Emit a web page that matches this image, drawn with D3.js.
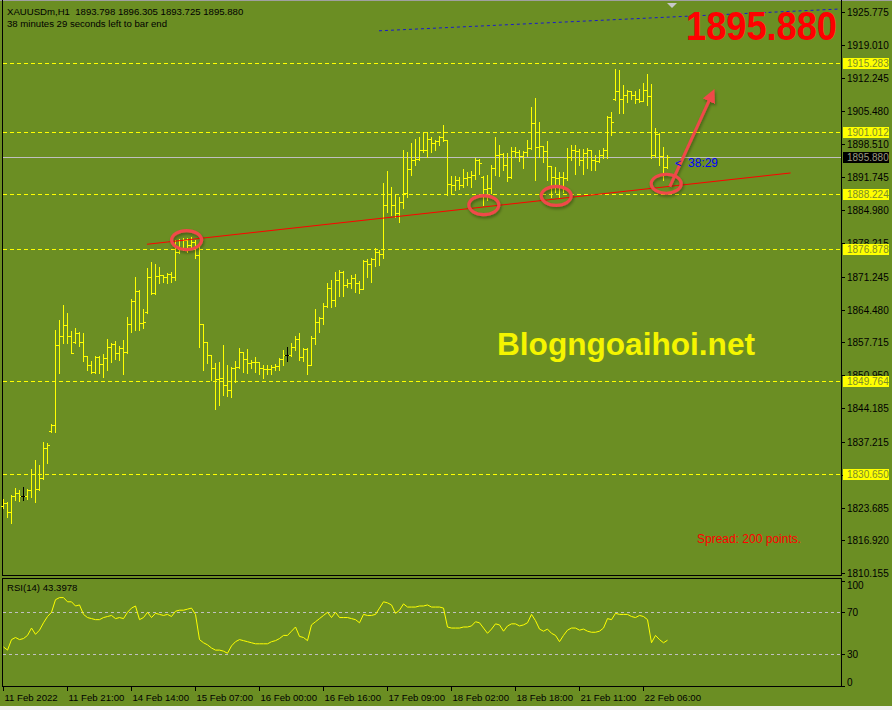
<!DOCTYPE html>
<html>
<head>
<meta charset="utf-8">
<script src="https://cdn.jsdelivr.net/npm/d3@7/dist/d3.min.js"></script>
<style>
  html, body { margin: 0; padding: 0; background: #6b8e23; }
  svg { display: block; font-family: "Liberation Sans", Arial, sans-serif; }
</style>
</head>
<body>
<svg id="chart" width="892" height="710"></svg>
<script>
// ---- data (XAUUSDm, H1) ----
var barOpen = [
  1824.0,1824.6,1822.8,1826.1,1826.6,1826.1,1826.1,1827.3,1830.7,1827.5,
  1829.7,1835.9,1839.5,1840.7,1857.2,1859.1,1861.2,1859.1,1857.9,1859.6,
  1857.9,1854.9,1853.1,1851.7,1854.8,1853.2,1854.5,1856.7,1857.3,1855.5,
  1856.5,1855.7,1861.5,1866.3,1868.3,1861.8,1864.0,1871.1,1867.9,1871.4,
  1871.6,1871.1,1871.9,1871.1,1876.4,1877.1,1878.8,1877.8,1878.5,1875.7,
  1861.5,1857.7,1855.1,1852.5,1850.2,1850.3,1848.9,1847.9,1852.5,1852.7,
  1855.7,1854.4,1853.5,1853.6,1853.7,1852.4,1852.2,1852.3,1852.7,1852.8,
  1854.2,1855.1,1855.1,1856.8,1858.5,1854.8,1856.4,1853.0,1858.7,1861.9,
  1862.7,1865.2,1869.0,1866.4,1870.6,1872.3,1869.5,1869.9,1870.9,1869.9,
  1868.8,1874.5,1873.9,1874.8,1876.4,1876.0,1886.0,1888.3,1886.0,1884.3,
  1886.7,1888.5,1893.4,1895.3,1895.5,1897.3,1897.4,1899.6,1898.7,1899.1,
  1900.0,1899.4,1890.4,1890.2,1891.2,1890.1,1891.5,1891.7,1892.1,1895.3,
  1891.8,1889.4,1889.6,1893.7,1896.3,1896.6,1894.3,1891.7,1897.2,1897.0,
  1896.2,1897.0,1897.8,1903.0,1898.0,1898.1,1897.2,1894.0,1891.7,1891.6,
  1891.8,1891.5,1896.0,1897.3,1897.2,1895.3,1896.8,1897.3,1895.3,1895.0,
  1896.3,1897.3,1904.1,1907.8,1909.4,1907.8,1908.7,1909.4,1908.7,1907.8,
  1907.5,1909.8,1908.5,1896.3,1900.6,1896.2,1893.798
];
var barHigh = [
  1825.4,1824.8,1826.3,1827.7,1827.3,1827.9,1827.5,1831.6,1833.5,1832.5,
  1837.2,1836.9,1840.9,1860.3,1862.4,1865.4,1863.7,1860.0,1860.6,1859.9,
  1859.6,1854.9,1853.8,1854.9,1854.9,1855.3,1858.4,1857.6,1858.1,1856.9,
  1858.2,1862.9,1866.6,1871.1,1868.5,1864.6,1873.0,1874.2,1873.8,1873.3,
  1871.7,1872.1,1872.3,1878.8,1879.0,1879.2,1879.3,1879.4,1878.8,1877.8,
  1861.6,1857.9,1855.1,1853.4,1853.7,1857.2,1853.1,1852.7,1853.9,1856.5,
  1855.7,1856.4,1854.1,1854.8,1853.7,1853.1,1853.0,1853.0,1853.2,1854.6,
  1856.1,1856.7,1857.5,1859.0,1859.6,1856.5,1856.5,1859.0,1864.5,1863.0,
  1865.9,1869.9,1870.6,1872.3,1872.6,1872.4,1870.7,1871.6,1871.8,1870.4,
  1874.7,1874.8,1875.2,1877.1,1876.7,1890.5,1893.0,1889.8,1888.3,1887.6,
  1897.3,1897.0,1898.7,1899.6,1900.1,1901.1,1901.1,1900.1,1899.4,1900.2,
  1902.4,1899.5,1891.9,1891.9,1891.8,1893.5,1892.9,1893.1,1895.6,1895.4,
  1891.9,1892.2,1894.2,1900.0,1898.4,1896.7,1896.7,1898.0,1897.9,1897.3,
  1897.2,1899.4,1906.3,1908.0,1903.2,1898.2,1899.1,1894.0,1893.8,1892.9,
  1892.9,1897.7,1898.4,1898.4,1897.5,1897.5,1897.7,1897.4,1896.3,1897.3,
  1897.7,1904.4,1905.2,1914.0,1913.8,1910.7,1909.7,1909.6,1909.4,1910.0,
  1911.1,1913.1,1911.0,1901.8,1900.8,1898.0,1896.305
];
var barLow = [
  1823.7,1821.8,1820.6,1825.3,1825.1,1825.3,1825.5,1825.8,1824.9,1827.3,
  1829.5,1832.8,1839.3,1839.3,1851.4,1857.5,1857.5,1855.5,1857.5,1856.9,
  1853.8,1852.0,1851.5,1851.5,1851.5,1850.5,1852.0,1853.6,1854.2,1854.0,
  1851.2,1855.6,1859.9,1860.3,1860.3,1860.6,1863.7,1867.6,1867.6,1869.9,
  1870.2,1869.9,1870.2,1870.6,1876.1,1876.8,1876.4,1877.2,1875.0,1856.8,
  1852.0,1853.4,1850.0,1844.1,1844.8,1846.9,1846.7,1846.5,1849.6,1852.5,
  1851.7,1851.5,1852.4,1851.7,1851.3,1850.3,1851.3,1851.2,1852.1,1852.1,
  1853.0,1853.9,1854.9,1856.1,1854.1,1853.9,1851.2,1853.0,1857.4,1859.9,
  1861.5,1865.1,1865.1,1865.2,1867.3,1867.3,1869.2,1869.0,1868.2,1867.8,
  1868.8,1871.2,1870.2,1873.4,1873.7,1875.2,1884.6,1883.9,1883.6,1882.6,
  1885.5,1887.7,1892.2,1894.3,1895.3,1897.0,1896.0,1897.0,1897.3,1898.4,
  1899.1,1888.1,1888.2,1889.1,1889.3,1889.8,1890.1,1889.8,1891.3,1892.5,
  1886.0,1887.0,1888.4,1892.1,1891.9,1893.2,1890.9,1891.5,1896.0,1895.0,
  1893.6,1896.1,1897.5,1891.2,1896.0,1894.9,1891.2,1887.7,1888.8,1887.7,
  1888.8,1891.2,1895.3,1892.5,1894.3,1892.5,1893.6,1893.2,1893.2,1894.9,
  1895.6,1895.6,1900.4,1907.6,1905.0,1905.0,1907.3,1907.8,1907.1,1907.3,
  1907.4,1906.6,1895.6,1896.0,1894.2,1891.2,1893.725
];
var barClose = [
  1824.6,1822.8,1826.1,1826.6,1826.1,1826.1,1827.3,1830.7,1827.5,1829.7,
  1835.9,1836.6,1840.7,1857.2,1859.1,1861.2,1859.1,1855.6,1859.6,1857.9,
  1854.9,1853.1,1851.7,1854.8,1853.2,1854.5,1856.7,1857.3,1855.5,1856.5,
  1855.7,1861.5,1866.3,1868.3,1861.8,1862.0,1871.1,1867.9,1871.4,1871.6,
  1871.1,1871.9,1871.1,1876.4,1877.1,1878.8,1877.8,1878.5,1875.7,1861.5,
  1857.7,1855.1,1852.5,1850.2,1850.3,1848.9,1847.9,1852.5,1852.7,1855.7,
  1854.4,1853.5,1853.6,1853.7,1852.4,1852.2,1852.3,1852.7,1852.8,1854.2,
  1855.1,1855.1,1856.8,1858.5,1854.8,1856.4,1853.0,1858.7,1861.9,1862.7,
  1865.2,1869.0,1866.4,1870.6,1872.3,1869.5,1869.9,1870.9,1869.9,1868.8,
  1874.5,1873.9,1874.8,1876.4,1876.0,1886.0,1888.3,1886.0,1884.3,1886.7,
  1888.5,1893.4,1895.3,1895.5,1897.3,1897.4,1899.6,1898.7,1899.1,1900.0,
  1899.4,1890.4,1890.2,1891.2,1890.1,1891.5,1891.7,1892.1,1895.3,1894.7,
  1889.4,1889.6,1893.7,1896.3,1896.6,1894.3,1891.7,1897.2,1897.0,1896.2,
  1897.0,1897.8,1903.0,1898.0,1898.1,1897.2,1894.0,1891.7,1891.6,1891.8,
  1891.5,1896.0,1897.3,1897.2,1895.3,1896.8,1897.3,1895.3,1895.0,1896.3,
  1897.3,1904.1,1903.2,1909.4,1907.8,1908.7,1909.4,1908.7,1907.8,1907.5,
  1909.8,1908.5,1896.3,1900.6,1896.2,1893.8,1895.880
];
var rsiValues = [
  37,34,44,46,44,45,48,55,49,53, 60,66,70,82,84,84,80,80,76,77,
  68,65,64,63,63,65,66,67,64,65, 64,70,74,76,63,65,70,65,69,68,
  67,68,66,71,72,72,73,74,68,44, 41,39,36,34,34,33,31,38,42,44,
  43,42,41,40,40,40,40,42,43,45, 48,48,52,56,47,46,43,58,61,64,
  67,70,65,70,65,65,65,64,63,60, 68,67,67,68,74,80,79,77,69,72,
  78,75,75,75,76,76,77,75,75,75, 74,56,55,55,55,56,56,57,61,60,
  55,50,54,59,58,52,57,59,59,57, 58,60,68,62,54,52,54,50,48,42,
  48,53,55,55,53,54,52,51,51,52, 55,64,63,69,68,68,68,66,65,67,
  66,63,41,48,44,41,43.3978
];
var priceTicks = [1925.775,1919.010,1912.245,1905.480,1898.510,1891.745,1884.980,1878.215,
  1871.245,1864.480,1857.715,1850.950,1844.185,1837.215,1830.450,1823.685,1816.920,1810.155];
var levelPrices = [1915.283, 1901.012, 1888.224, 1876.878, 1849.764, 1830.650];
var bidPrice = 1895.880;
var rsiTicks = [100, 70, 30, 0];
var rsiLevels = [70, 30];
var timeLabels = ["11 Feb 2022","11 Feb 21:00","14 Feb 14:00","15 Feb 07:00","16 Feb 00:00",
  "16 Feb 16:00","17 Feb 09:00","18 Feb 02:00","18 Feb 18:00","21 Feb 11:00","22 Feb 06:00"];
var timeLabelBars = [0,16,32,48,64,80,96,112,128,144,160];
// drawings on the chart, in bar index / price
var trendLine = [{i: 36, p: 1877.93}, {i: 196.9, p: 1892.62}];
var blueLine = [{i: 94, p: 1921.9}, {i: 209.4, p: 1926.4}];
var circles = [{i: 45.9, p: 1878.8}, {i: 120.2, p: 1886.0}, {i: 138.3, p: 1887.9}, {i: 165.8, p: 1890.4}];
var arrow = [{i: 166.7, p: 1889.8}, {i: 177.3, p: 1908.9}];

var svg = d3.select("#chart");
var W = 892, H = 710;
var plotRight = 841;

var x = d3.scaleLinear().domain([0, 166]).range([3, 667]);
var y = d3.scaleLinear().domain([1810.155, 1925.775]).range([573.3, 12]);
var yr = d3.scaleLinear().domain([0, 100]).range([685.8, 580.8]);

svg.append("rect").attr("width", W).attr("height", H).attr("fill", "#6b8e23");
svg.append("rect").attr("x", 0).attr("y", 0).attr("width", W).attr("height", 1).attr("fill", "#a0a0a0");
svg.append("rect").attr("x", 0).attr("y", 706).attr("width", W).attr("height", 4).attr("fill", "#f0f0f0");

// frames
var frame = svg.append("g").attr("fill", "none").attr("stroke", "#000").attr("shape-rendering", "crispEdges");
frame.append("path").attr("d", "M2.5,0V575.5H" + (plotRight + 0.5) + "V0");
frame.append("rect").attr("x", 2.5).attr("y", 578.5).attr("width", plotRight - 2).attr("height", 108);

// blue dashed line near the top
svg.append("line")
  .attr("x1", x(blueLine[0].i)).attr("y1", y(blueLine[0].p))
  .attr("x2", x(blueLine[1].i)).attr("y2", y(blueLine[1].p))
  .attr("stroke", "#1a1acd").attr("stroke-width", 1).attr("stroke-dasharray", "3,3");

// horizontal levels
svg.append("g").selectAll("line").data(levelPrices).enter().append("line")
  .attr("x1", 3).attr("x2", plotRight)
  .attr("y1", d => Math.round(y(d)) + 0.5).attr("y2", d => Math.round(y(d)) + 0.5)
  .attr("stroke", "#ffff00").attr("stroke-dasharray", "4,3").attr("shape-rendering", "crispEdges");

// bid line
svg.append("line").attr("x1", 3).attr("x2", plotRight)
  .attr("y1", Math.round(y(bidPrice)) + 0.5).attr("y2", Math.round(y(bidPrice)) + 0.5)
  .attr("stroke", "#c0c0c0").attr("shape-rendering", "crispEdges");

// OHLC bars
var bars = svg.append("g").attr("shape-rendering", "crispEdges");
barOpen.forEach(function (o, i) {
  var px = Math.round(x(i));
  var col = (o === barClose[i]) ? "#000" : "#ffff00";
  var g = bars.append("g").attr("fill", col);
  var top = Math.round(y(barHigh[i])), bot = Math.round(y(barLow[i]));
  g.append("rect").attr("x", px).attr("y", top).attr("width", 1).attr("height", Math.max(1, bot - top + 1));
  g.append("rect").attr("x", px - 2).attr("y", Math.round(y(o))).attr("width", 2).attr("height", 1);
  g.append("rect").attr("x", px + 1).attr("y", Math.round(y(barClose[i]))).attr("width", 2).attr("height", 1);
});

// red trend line
svg.append("line")
  .attr("x1", x(trendLine[0].i)).attr("y1", y(trendLine[0].p))
  .attr("x2", x(trendLine[1].i)).attr("y2", y(trendLine[1].p))
  .attr("stroke", "#ff0000").attr("stroke-width", 1);

// circles and arrow
var defs = svg.append("defs");
var f = defs.append("filter").attr("id", "shadow").attr("x", "-30%").attr("y", "-30%").attr("width", "160%").attr("height", "170%");
f.append("feDropShadow").attr("dx", 1).attr("dy", 2).attr("stdDeviation", 1.5).attr("flood-color", "#000").attr("flood-opacity", 0.35);
defs.append("marker").attr("id", "head").attr("viewBox", "0 0 10 10").attr("refX", 6).attr("refY", 5)
  .attr("markerWidth", 4.5).attr("markerHeight", 4.5).attr("orient", "auto")
  .append("path").attr("d", "M0,0L10,5L0,10z").attr("fill", "#f04848");

var ann = svg.append("g").attr("filter", "url(#shadow)");
ann.selectAll("ellipse").data(circles).enter().append("ellipse")
  .attr("cx", d => x(d.i)).attr("cy", d => y(d.p))
  .attr("rx", 15).attr("ry", 9.5)
  .attr("fill", "none").attr("stroke", "#f04848").attr("stroke-width", 3.2);
ann.append("line")
  .attr("x1", x(arrow[0].i)).attr("y1", y(arrow[0].p))
  .attr("x2", x(arrow[1].i)).attr("y2", y(arrow[1].p))
  .attr("stroke", "#f04848").attr("stroke-width", 3).attr("marker-end", "url(#head)");

// price axis
var axisG = svg.append("g").attr("font-size", "10px").attr("fill", "#000");
priceTicks.forEach(function (p) {
  var yy = Math.round(y(p)) + 0.5;
  axisG.append("line").attr("x1", plotRight).attr("x2", plotRight + 4).attr("y1", yy).attr("y2", yy)
    .attr("stroke", "#000").attr("shape-rendering", "crispEdges");
  axisG.append("text").attr("x", 847).attr("y", yy + 3.5).text(p.toFixed(3));
});
levelPrices.forEach(function (p) {
  var yy = Math.round(y(p));
  axisG.append("rect").attr("x", 843).attr("y", yy - 5).attr("width", 46).attr("height", 11).attr("fill", "#ffff00");
  axisG.append("text").attr("x", 847).attr("y", yy + 4).attr("fill", "#7a8c2a").text(p.toFixed(3));
});
(function () {
  var yy = Math.round(y(bidPrice));
  axisG.append("rect").attr("x", 843).attr("y", yy - 5).attr("width", 46).attr("height", 11).attr("fill", "#000");
  axisG.append("text").attr("x", 847).attr("y", yy + 4).attr("fill", "#9c9c80").text(bidPrice.toFixed(3));
})();

// small shift marker
svg.append("path").attr("d", "M667,3L677,3L672,8Z").attr("fill", "#c8c8c8");

// texts
svg.append("text").attr("x", 7).attr("y", 15).attr("font-size", "9.6px").attr("fill", "#000")
  .attr("xml:space", "preserve")
  .text("XAUUSDm,H1  " + barOpen[166].toFixed(3) + " " + barHigh[166].toFixed(3) + " " + barLow[166].toFixed(3) + " " + barClose[166].toFixed(3));
svg.append("text").attr("x", 7).attr("y", 27).attr("font-size", "9.6px").attr("fill", "#000")
  .text("38 minutes 29 seconds left to bar end");
svg.append("text").attr("x", 686).attr("y", 40).attr("font-size", "40px").attr("font-weight", "bold")
  .attr("fill", "#ff0000").attr("textLength", 151).attr("lengthAdjust", "spacingAndGlyphs")
  .text(bidPrice.toFixed(3));
svg.append("text").attr("x", 497).attr("y", 355).attr("font-size", "31px").attr("font-weight", "bold")
  .attr("fill", "#f5f500").attr("textLength", 258).attr("lengthAdjust", "spacingAndGlyphs")
  .text("Blogngoaihoi.net");
svg.append("text").attr("x", 697).attr("y", 543).attr("font-size", "12px").attr("fill", "#ff0000")
  .text("Spread: 200 points.");
svg.append("text").attr("x", 675).attr("y", 167).attr("font-size", "11px").attr("fill", "#0000ff").text("<");
svg.append("text").attr("x", 688).attr("y", 167).attr("font-size", "12px").attr("fill", "#0000ff").text("38:29");

// RSI panel
svg.append("g").selectAll("line").data(rsiLevels).enter().append("line")
  .attr("x1", 3).attr("x2", plotRight)
  .attr("y1", d => Math.round(yr(d)) + 0.5).attr("y2", d => Math.round(yr(d)) + 0.5)
  .attr("stroke", "#c0c0c0").attr("stroke-dasharray", "3,3").attr("shape-rendering", "crispEdges");
var rsiLine = d3.line().x((d, i) => x(i) + 0.5).y(d => yr(d));
svg.append("path").datum(rsiValues).attr("d", rsiLine)
  .attr("fill", "none").attr("stroke", "#ffff00").attr("stroke-width", 1);
svg.append("text").attr("x", 7).attr("y", 591).attr("font-size", "9.6px").attr("fill", "#000")
  .text("RSI(14) " + rsiValues[rsiValues.length - 1].toFixed(4));
rsiTicks.forEach(function (v) {
  var yy = Math.round(yr(v)) + 0.5;
  var ty = Math.min(Math.max(yy, 585), 682);
  svg.append("line").attr("x1", plotRight).attr("x2", plotRight + 4).attr("y1", yy).attr("y2", yy)
    .attr("stroke", "#000").attr("shape-rendering", "crispEdges");
  svg.append("text").attr("x", 847).attr("y", ty + 3.5).attr("font-size", "10px").attr("fill", "#000").text(v);
});

// time axis
timeLabels.forEach(function (t, k) {
  var xx = Math.round(x(timeLabelBars[k])) + 0.5;
  svg.append("line").attr("x1", xx).attr("x2", xx).attr("y1", 687).attr("y2", 691)
    .attr("stroke", "#000").attr("shape-rendering", "crispEdges");
  svg.append("text").attr("x", xx + 1).attr("y", 701).attr("font-size", "9.6px").attr("fill", "#000").text(t);
});
</script>
</body>
</html>
